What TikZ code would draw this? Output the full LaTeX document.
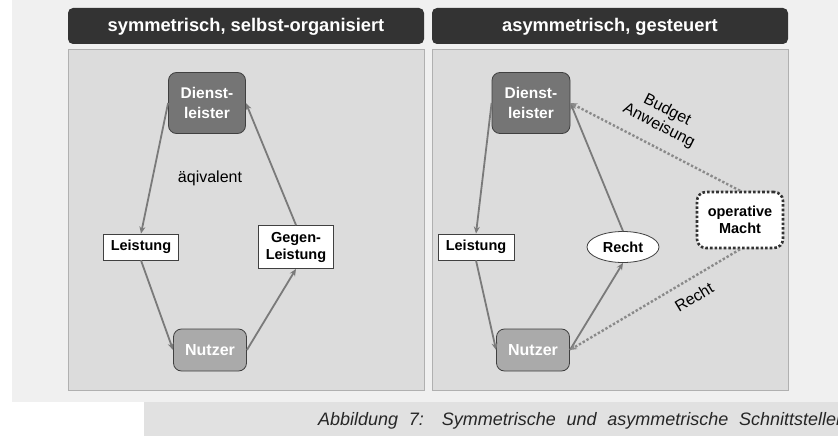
\documentclass[tikz,border=0pt]{standalone}
\usepackage{fontspec}
\setmainfont{Liberation Sans}
\usetikzlibrary{arrows.meta,shapes.geometric}
\definecolor{pagebg}{HTML}{F0F0F0}
\definecolor{capbg}{HTML}{E1E1E1}
\definecolor{panelbg}{HTML}{DCDCDC}
\definecolor{panelline}{HTML}{B0B0B0}
\definecolor{headbg}{HTML}{333333}
\definecolor{darkbox}{HTML}{757575}
\definecolor{lightbox}{HTML}{AAAAAA}
\definecolor{flow}{HTML}{7A7A7A}
\definecolor{ctrl}{HTML}{8A8A8A}
\tikzset{
  header/.style={fill=headbg, rounded corners=5pt},
  panel/.style={fill=panelbg, draw=panelline, line width=0.8pt},
  headtext/.style={text=white, font=\fontsize{18.3}{20}\selectfont\bfseries},
  actor/.style={draw=black!75, line width=0.8pt, rounded corners=8pt,
    text=white, font=\fontsize{15.5}{20}\selectfont\bfseries, align=center, inner sep=0pt},
  item/.style={draw=black!75, line width=0.8pt, fill=white,
    font=\fontsize{14.5}{17}\selectfont\bfseries, align=center, inner sep=0pt},
  flowarrow/.style={draw=flow, line width=1.8pt, -{Stealth[length=7pt,width=6pt]}},
  ctrlarrow/.style={draw=ctrl, line width=2.4pt, dotted, -{Stealth[length=7pt,width=6pt]}},
  lbl/.style={font=\fontsize{16}{18}\selectfont, align=center, inner sep=0pt}
}
\begin{document}
\begin{tikzpicture}[x=1pt,y=-1pt]
\useasboundingbox (0,0) rectangle (838,436);
% page background and caption strip
\fill[pagebg] (12,0) rectangle (838,402);
\fill[capbg] (144,402) rectangle (838,436);
\node[anchor=base west, inner sep=0pt, font=\fontsize{18}{20}\selectfont\itshape, text=black!85]
  (caption) at (318,425) {\makebox[528pt][s]{Abbildung 7: Symmetrische und asymmetrische Schnittstellen}};

% left panel
\fill[header] (68,8) rectangle (424,44);
\node[headtext] (h1) at (246,27) {symmetrisch, selbst-organisiert};
\draw[panel] (68,49) rectangle (424,390);

\node[actor, fill=darkbox, minimum width=77pt, minimum height=61pt] (d1) at (207,103) {Dienst-\\leister};
\node[actor, fill=lightbox, font=\fontsize{16}{20}\selectfont\bfseries,
  minimum width=73pt, minimum height=42pt] (n1) at (210,350) {Nutzer};
\node[item, minimum width=75pt, minimum height=26pt] (l1) at (141,247) {Leistung};
\node[item, minimum width=75pt, minimum height=43pt] (g1) at (296,247) {Gegen-\\Leistung};
\node[lbl] (eq) at (210,178) {äqivalent};

\draw[flowarrow] (d1.west) -- (l1.north);
\draw[flowarrow] (l1.south) -- (n1.west);
\draw[flowarrow] (n1.east) -- (g1.south);
\draw[flowarrow] (g1.north) -- (d1.east);

% right panel
\fill[header] (432,8) rectangle (788,44);
\node[headtext] (h2) at (610,27) {asymmetrisch, gesteuert};
\draw[panel] (432,49) rectangle (788,390);

\node[actor, fill=darkbox, minimum width=78pt, minimum height=61pt] (d2) at (531,103) {Dienst-\\leister};
\node[actor, fill=lightbox, font=\fontsize{16}{20}\selectfont\bfseries,
  minimum width=73pt, minimum height=42pt] (n2) at (533,350) {Nutzer};
\node[item, minimum width=76pt, minimum height=26pt] (l2) at (476,247) {Leistung};
\node[item, ellipse, minimum width=72pt, minimum height=31pt] (r2) at (623,247) {Recht};
\node[item, draw=black!80, line width=2.6pt, dotted, rounded corners=9pt,
  minimum width=86pt, minimum height=56pt] (m2) at (740,220) {operative\\Macht};

\draw[flowarrow] (d2.west) -- (l2.north);
\draw[flowarrow] (l2.south) -- (n2.west);
\draw[flowarrow] (n2.east) -- (r2.south);
\draw[flowarrow] (r2.north) -- (d2.east);
\draw[ctrlarrow] (m2.north) -- (d2.east);
\draw[ctrlarrow] (m2.south) -- (n2.east);

\node[lbl, rotate=-27] (budget) at (663,118) {Budget\\Anweisung};
\node[lbl, rotate=31] (recht) at (694,297) {Recht};
\end{tikzpicture}
\end{document}
